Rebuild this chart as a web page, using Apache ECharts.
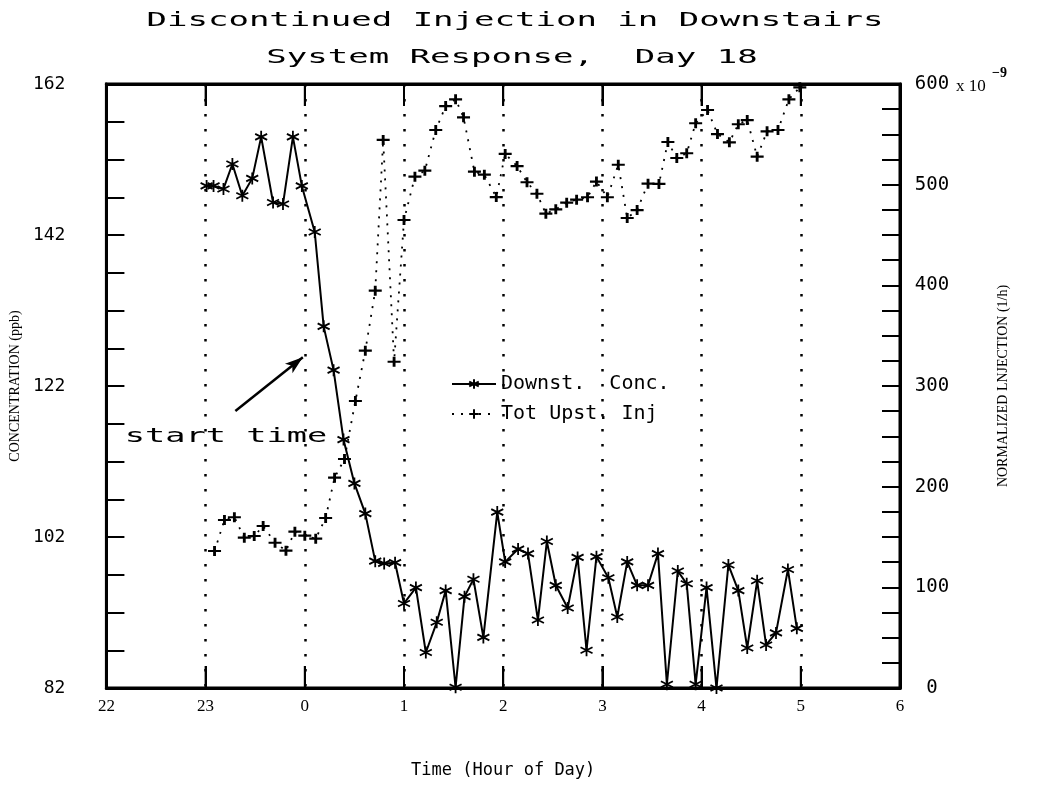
<!DOCTYPE html>
<html>
<head>
<meta charset="utf-8">
<script src="https://cdn.jsdelivr.net/npm/echarts@6/dist/echarts.min.js"></script>
<style>
  html, body { margin: 0; padding: 0; background: #fff; }
  #chart { width: 1052px; height: 797px; }
</style>
</head>
<body>
<div id="chart"></div>
<script>
// Time is in hours from midnight of day 18; the evening before is negative (22:00 = -2, 23:00 = -1).
const hourTicks = [-2, -1, 0, 1, 2, 3, 4, 5, 6];
const hourLabels = ['22', '23', '0', '1', '2', '3', '4', '5', '6'];

// Left scale: downstairs concentration (ppb)
const concTicks = [82, 87, 92, 97, 102, 107, 112, 117, 122, 127, 132, 137, 142, 147, 152, 157, 162];
const concLabels = [82, 102, 122, 142, 162];
// Right scale: normalized injection (x 10^-9 1/h)
const injLabels = [0, 100, 200, 300, 400, 500, 600];

// Downstairs concentration samples
const concTime = [-0.99, -0.92, -0.82, -0.73, -0.63, -0.53, -0.44, -0.32, -0.22, -0.12,
  -0.03, 0.10, 0.19, 0.29, 0.39, 0.50, 0.61, 0.71, 0.80, 0.91,
  1.00, 1.12, 1.22, 1.33, 1.42, 1.52, 1.61, 1.70, 1.80, 1.94,
  2.02, 2.15, 2.25, 2.35, 2.44, 2.53, 2.65, 2.75, 2.84, 2.94,
  3.06, 3.15, 3.25, 3.35, 3.46, 3.56, 3.65, 3.76, 3.85, 3.94,
  4.05, 4.15, 4.27, 4.37, 4.46, 4.56, 4.65, 4.75, 4.87, 4.96];
const concValue = [148.5, 148.5, 148.1, 151.4, 147.2, 149.5, 155.0, 146.3, 146.1, 155.0,
  148.5, 142.4, 129.9, 124.1, 114.9, 109.1, 105.1, 98.8, 98.5, 98.6,
  93.2, 95.3, 86.7, 90.7, 94.9, 82.1, 94.1, 96.4, 88.7, 105.3,
  98.7, 100.4, 99.8, 91.0, 101.4, 95.6, 92.6, 99.3, 87.0, 99.4,
  96.6, 91.4, 98.7, 95.6, 95.6, 99.8, 82.5, 97.5, 95.8, 82.5,
  95.3, 82.0, 98.3, 94.9, 87.3, 96.2, 87.7, 89.3, 97.7, 89.9];

// Total upstairs injection samples
const injTime = [-0.91, -0.81, -0.71, -0.61, -0.51, -0.42, -0.30, -0.19, -0.10, 0.00,
  0.11, 0.21, 0.30, 0.40, 0.51, 0.61, 0.71, 0.79, 0.90, 1.00,
  1.11, 1.21, 1.32, 1.42, 1.52, 1.60, 1.71, 1.81, 1.93, 2.02,
  2.14, 2.24, 2.34, 2.43, 2.53, 2.64, 2.74, 2.85, 2.94, 3.05,
  3.16, 3.25, 3.35, 3.46, 3.57, 3.66, 3.75, 3.85, 3.94, 4.06,
  4.16, 4.28, 4.37, 4.46, 4.56, 4.66, 4.77, 4.88, 4.99];
const injValue = [136.1, 166.9, 169.6, 149.3, 151.0, 160.9, 144.3, 136.4, 155.3, 151.3,
  148.3, 168.9, 208.9, 227.5, 285.1, 335.1, 394.7, 544.4, 324.1, 464.9,
  507.9, 513.9, 554.3, 578.1, 584.8, 566.9, 512.9, 509.9, 487.7, 530.5,
  518.5, 502.4, 491.0, 471.2, 475.5, 482.1, 485.1, 487.5, 503.1, 487.5,
  519.8, 466.9, 474.8, 501.0, 500.7, 542.4, 526.5, 531.2, 561.0, 574.2,
  550.3, 542.1, 560.0, 564.2, 527.8, 553.0, 554.3, 584.8, 596.7];

// "start time" arrow, from tail to head, in (hour, ppb)
const arrowTail = [-0.70, 118.7];
const arrowHead = [-0.02, 125.8];

const plotterFont = '"DejaVu Sans Mono", "Liberation Mono", monospace';
const serifFont = '"Liberation Serif", "DejaVu Serif", serif';

const starSymbol = 'path://M0,-10L0,10M-8.66,-5L8.66,5M-8.66,5L8.66,-5';
const plusSymbol = 'path://M-6,0L6,0M0,-6L0,6';

const concData = concTime.map((t, i) => [t, concValue[i]]);
const injData = injTime.map((t, i) => [t, injValue[i]]);

const chart = echarts.init(document.getElementById('chart'), null, { renderer: 'canvas' });

function tickStyle() { return { color: '#000', width: 2 }; }
function frameLine() { return { show: true, onZero: false, lineStyle: { color: '#000', width: 3 } }; }

const HOUR_TICK_LEN = 22;

const textGraphics = [
  {
    id: 'title1', type: 'text', x: 515, y: 21, scaleX: 1.7,
    style: { text: 'Discontinued Injection in Downstairs', font: '20px ' + plotterFont, fill: '#000', align: 'center', verticalAlign: 'middle' }
  },
  {
    id: 'title2', type: 'text', x: 512, y: 58, scaleX: 1.7,
    style: { text: 'System Response,  Day 18', font: '20px ' + plotterFont, fill: '#000', align: 'center', verticalAlign: 'middle' }
  },
  {
    id: 'startText', type: 'text', x: 226, y: 437, scaleX: 1.68,
    style: { text: 'start time', font: '20px ' + plotterFont, fill: '#000', align: 'center', verticalAlign: 'middle' }
  },
  {
    id: 'unitBase', type: 'text', x: 956, y: 87,
    style: { text: 'x 10', font: '17px ' + serifFont, fill: '#000', align: 'left', verticalAlign: 'middle' }
  },
  {
    id: 'unitExp', type: 'text', x: 992, y: 73,
    style: { text: '\u22129', font: 'bold 14px ' + serifFont, fill: '#000', align: 'left', verticalAlign: 'middle' }
  }
];

chart.setOption({
  animation: false,
  backgroundColor: '#fff',
  grid: {
    left: 103, right: 152, top: 84, bottom: 109,
    show: true, borderColor: '#000', borderWidth: 3, backgroundColor: 'transparent'
  },
  legend: {
    orient: 'vertical',
    left: 446, top: 369,
    itemWidth: 44, itemHeight: 12, itemGap: 10,
    textStyle: { fontFamily: plotterFont, fontSize: 20, color: '#000' },
    data: ['Downst.  Conc.', 'Tot Upst. Inj']
  },
  xAxis: [
    {
      type: 'value', min: -2, max: 6, interval: 1, position: 'bottom',
      axisLine: frameLine(),
      axisTick: { show: true, inside: true, length: HOUR_TICK_LEN, lineStyle: tickStyle() },
      axisLabel: {
        color: '#000', fontFamily: serifFont, fontSize: 17, margin: 10,
        formatter: v => hourLabels[hourTicks.indexOf(v)]
      },
      splitLine: { show: true, lineStyle: { color: '#000', width: 2.5, type: [2.5, 12.5] } },
      name: 'Time (Hour of Day)', nameLocation: 'middle', nameGap: 74,
      nameTextStyle: { fontFamily: plotterFont, fontSize: 17, color: '#000' }
    },
    {
      type: 'value', min: -2, max: 6, interval: 1, position: 'top',
      axisLine: frameLine(),
      axisTick: { show: true, inside: true, length: HOUR_TICK_LEN, lineStyle: tickStyle() },
      axisLabel: { show: false },
      splitLine: { show: false }
    }
  ],
  yAxis: [
    {
      type: 'value', min: 82, max: 162, position: 'left',
      axisLine: frameLine(),
      axisTick: { show: true, inside: true, length: 18, lineStyle: tickStyle(), customValues: concTicks },
      axisLabel: {
        customValues: concLabels,
        color: '#000', fontFamily: plotterFont, fontSize: 18, margin: 41
      },
      splitLine: { show: false },
      name: 'CONCENTRATION (ppb)', nameLocation: 'middle', nameRotate: 90, nameGap: 76,
      nameTextStyle: { fontFamily: serifFont, fontSize: 14, color: '#000' }
    },
    {
      type: 'value', min: 0, max: 600, interval: 25, position: 'right',
      axisLine: frameLine(),
      axisTick: { show: true, inside: true, length: 18, lineStyle: tickStyle() },
      axisLabel: {
        color: '#000', fontFamily: plotterFont, fontSize: 19, margin: 32, align: 'center',
        formatter: v => (injLabels.indexOf(v) >= 0 ? String(v) : '')
      },
      splitLine: { show: false },
      name: 'NORMALIZED LNJECTION (1/h)', nameLocation: 'middle', nameRotate: 90, nameGap: 96,
      nameTextStyle: { fontFamily: serifFont, fontSize: 14, color: '#000' }
    }
  ],
  series: [
    {
      name: 'Downst.  Conc.',
      type: 'line',
      xAxisIndex: 0, yAxisIndex: 0,
      data: concData,
      symbol: starSymbol, symbolSize: 12,
      itemStyle: { color: '#000', borderColor: '#000', borderWidth: 1.8 },
      lineStyle: { color: '#000', width: 2 },
      z: 3,
      markLine: {
        silent: true,
        symbol: ['none', 'arrow'], symbolSize: [9, 18],
        lineStyle: { color: '#000', width: 2.5, type: 'solid' },
        label: { show: false },
        data: [[{ coord: arrowTail }, { coord: arrowHead }]]
      }
    },
    {
      name: 'Tot Upst. Inj',
      type: 'line',
      xAxisIndex: 0, yAxisIndex: 1,
      data: injData,
      symbol: plusSymbol, symbolSize: [13, 10],
      itemStyle: { color: '#000', borderColor: '#000', borderWidth: 2.5 },
      lineStyle: { color: '#000', width: 1.8, type: [2, 7] },
      z: 2
    }
  ],
  graphic: textGraphics
});

// Solid hour ticks on the top and bottom edges of the frame, placed through the time axis scale.
const yBottom = chart.convertToPixel({ yAxisIndex: 0 }, 82);
const yTop = chart.convertToPixel({ yAxisIndex: 0 }, 162);
const hourTickLines = [];
hourTicks.forEach((h, i) => {
  const x = chart.convertToPixel({ xAxisIndex: 0 }, h);
  hourTickLines.push({
    id: 'hourTickB' + i, type: 'line', z: 10,
    shape: { x1: x, y1: yBottom, x2: x, y2: yBottom - HOUR_TICK_LEN },
    style: { stroke: '#000', lineWidth: 2 }
  });
  hourTickLines.push({
    id: 'hourTickT' + i, type: 'line', z: 10,
    shape: { x1: x, y1: yTop, x2: x, y2: yTop + HOUR_TICK_LEN },
    style: { stroke: '#000', lineWidth: 2 }
  });
});
chart.setOption({ graphic: textGraphics.concat(hourTickLines) });
</script>
</body>
</html>
